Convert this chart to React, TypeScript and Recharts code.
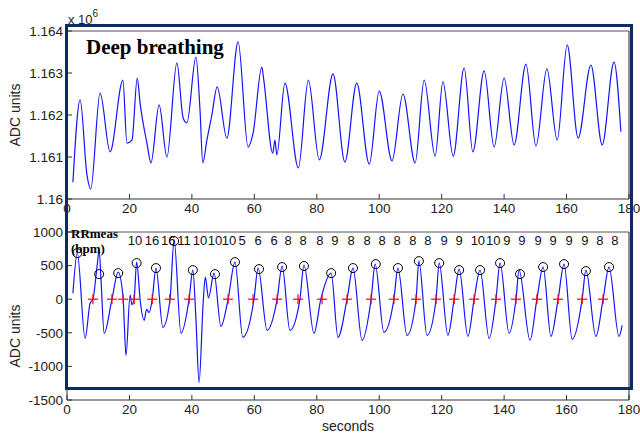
import { ComposedChart, Line, Scatter, XAxis, YAxis } from "recharts";

// top panel: raw signal (x 10^6 ADC units)
const rawT = [1.9, 4.2, 6.4, 7.6, 10.6, 13.8, 17.9, 19.2, 20.8, 22.5, 23.4, 25.6, 26.9, 29.5, 32.0, 35.2, 37.2, 38.4, 41.3, 42.6, 43.5, 44.8, 46.4, 48.1, 51.2, 54.8, 58.0, 59.6, 62.4, 63.0, 65.9, 66.6, 67.2, 69.8, 74.1, 77.3, 80.8, 85.2, 89.0, 92.8, 96.8, 100.0, 104.1, 107.6, 111.5, 114.4, 117.9, 120.4, 123.7, 127.2, 130.0, 133.6, 136.8, 140.0, 143.2, 147.0, 150.2, 153.7, 157.0, 160.2, 163.7, 167.8, 171.4, 175.2, 177.4];
const rawV = [1.1604, 1.16236, 1.16057, 1.16024, 1.16252, 1.16112, 1.16283, 1.16133, 1.1614, 1.16288, 1.16229, 1.16133, 1.16086, 1.16224, 1.161, 1.16324, 1.16193, 1.16181, 1.16338, 1.16212, 1.16086, 1.1614, 1.162, 1.16267, 1.16145, 1.16374, 1.16124, 1.16157, 1.16314, 1.16285, 1.16109, 1.1614, 1.16105, 1.16276, 1.16074, 1.16283, 1.16093, 1.16298, 1.16088, 1.16276, 1.16083, 1.16257, 1.16091, 1.1625, 1.16086, 1.16283, 1.16102, 1.16279, 1.16102, 1.16312, 1.16112, 1.16305, 1.16124, 1.16288, 1.16129, 1.16321, 1.16126, 1.1631, 1.1614, 1.16367, 1.16145, 1.16319, 1.16129, 1.16326, 1.1616];

// bottom panel: filtered signal
const filtT = [1.9, 3.3, 5.8, 7.4, 8.3, 9.6, 10.3, 10.9, 11.9, 14.4, 16.4, 18.0, 18.3, 18.9, 20.2, 20.8, 21.5, 22.3, 23.5, 24.7, 25.5, 26.3, 27.3, 28.5, 30.7, 33.0, 34.3, 36.5, 39.1, 40.3, 41.3, 42.3, 43.6, 44.3, 45.3, 47.1, 49.3, 51.6, 53.8, 56.3, 59.9, 61.2, 64.1, 67.3, 68.9, 71.4, 74.6, 75.9, 79.1, 81.3, 84.6, 86.8, 89.7, 91.6, 94.5, 97.4, 98.7, 101.5, 104.7, 106.0, 108.9, 111.8, 112.7, 115.3, 118.2, 119.2, 122.0, 124.0, 125.6, 128.4, 130.4, 132.3, 135.2, 137.4, 138.7, 141.6, 143.8, 144.8, 148.3, 150.5, 152.5, 155.0, 157.3, 159.2, 161.8, 165.0, 166.2, 169.4, 171.7, 173.6, 176.8, 177.8];
const filtV = [89, 686, -583, -60, 0, 477, 731, 283, -508, 0, 403, 0, -314, -836, 60, -80, 0, 552, -45, -314, -150, -200, 0, 463, -418, 0, 880, -508, 0, 433, -300, -1240, -60, 328, 20, 388, -403, 0, 552, -568, 0, 463, -463, 0, 493, -463, 0, 507, -508, 0, 388, -568, 0, 463, -612, 0, 522, -493, 0, 463, -538, 0, 567, -538, 0, 537, -538, 0, 448, -553, 0, 433, -583, 0, 537, -508, 0, 433, -612, 0, 478, -553, 0, 522, -597, 0, 433, -553, 0, 478, -553, -388];

// detected peaks (circles) and zero crossings (red +)
const peakT = [3.3, 10.3, 16.4, 22.3, 28.5, 34.3, 40.3, 47.4, 53.8, 61.5, 68.9, 75.9, 84.6, 91.6, 98.9, 106.0, 112.7, 119.2, 125.6, 132.3, 138.7, 145.1, 152.5, 159.2, 166.2, 173.6];
const peakV = [686, 373, 388, 537, 463, 865, 433, 373, 552, 448, 478, 493, 388, 463, 522, 463, 567, 537, 433, 433, 537, 373, 478, 522, 418, 478];
const crossT = [8.3, 14.4, 18.0, 21.5, 27.3, 32.9, 39.1, 51.6, 59.6, 67.3, 74.0, 81.7, 89.7, 97.4, 104.7, 111.8, 118.2, 124.0, 130.4, 137.4, 143.8, 150.5, 157.3, 165.0, 171.7];

// RR per breath (bpm)
const rrT = [21.8, 27.2, 32.4, 37.5, 42.6, 47.4, 51.9, 56.1, 61.2, 66.3, 70.8, 75.6, 81.0, 85.8, 91.0, 96.1, 100.9, 105.7, 110.8, 115.6, 120.8, 125.6, 131.6, 136.5, 140.9, 145.7, 150.9, 155.7, 160.8, 165.9, 170.7, 175.5];
const rrVal = [10, 16, 16, 11, 10, 10, 10, 5, 6, 6, 8, 8, 8, 9, 8, 8, 8, 8, 8, 8, 9, 9, 10, 10, 9, 9, 9, 9, 9, 9, 8, 8];

const xTicks = [0, 20, 40, 60, 80, 100, 120, 140, 160, 180];
const topTicks = [1.16, 1.161, 1.162, 1.163, 1.164];
const botTicks = [-1500, -1000, -500, 0, 500, 1000];

const rawData = rawT.map((t, i) => ({ t, v: rawV[i] }));
const filtData = filtT.map((t, i) => ({ t, v: filtV[i] }));
const peakData = peakT.map((t, i) => ({ t, v: peakV[i] }));
const crossData = crossT.map((t) => ({ t, v: 0 }));
const rrData = rrT.map((t, i) => ({ t, v: 880, label: rrVal[i] }));

const FONT = "'Liberation Sans', Arial, sans-serif";
const SERIF = "'Liberation Serif', 'Times New Roman', serif";
const tickStyle = { fill: "#222", fontSize: 13.5, fontFamily: FONT };
const W = 640;
const H = 434;

function fmtTop(v: number) {
  return String(Number(v.toFixed(3)));
}

function Panel({ top, bottom, yTicks, yDomain, yFmt, children }: any) {
  return (
    <ComposedChart
      width={W}
      height={H}
      margin={{ top: top - 1, left: 7, right: 10, bottom: H - bottom - 30 }}
      style={{ position: "absolute", left: 0, top: 0 }}
    >
      <XAxis
        dataKey="t"
        type="number"
        domain={[0, 180]}
        ticks={xTicks}
        interval={0}
        height={30}
        tickSize={-5}
        tickMargin={9}
        tick={tickStyle}
        stroke="#333"
        allowDataOverflow
      />
      <XAxis
        xAxisId="top"
        orientation="top"
        dataKey="t"
        type="number"
        domain={[0, 180]}
        ticks={xTicks}
        interval={0}
        height={1}
        tickSize={-5}
        tick={false}
        stroke="#555"
        allowDataOverflow
      />
      <YAxis
        dataKey="v"
        type="number"
        domain={yDomain}
        ticks={yTicks}
        interval={0}
        width={60}
        tickSize={-5}
        tickMargin={9}
        tick={tickStyle}
        tickFormatter={yFmt}
        stroke="#333"
        allowDataOverflow
      />
      <YAxis
        yAxisId="right"
        orientation="right"
        dataKey="v"
        type="number"
        domain={yDomain}
        ticks={yTicks}
        interval={0}
        width={1}
        tickSize={-5}
        tick={false}
        stroke="#222"
        allowDataOverflow
      />
      {children}
    </ComposedChart>
  );
}

export default function App() {
  return (
    <div style={{ position: "absolute", left: 0, top: 0, width: W, height: H, background: "#fff", overflow: "hidden" }}>
      <Panel top={31} bottom={199} yTicks={topTicks} yDomain={[1.16, 1.164]} yFmt={fmtTop}>
        <Line data={rawData} dataKey="v" type="monotone" stroke="#1414ff" strokeWidth={1.2} dot={false} isAnimationActive={false} />
      </Panel>
      <Panel top={232} bottom={400} yTicks={botTicks} yDomain={[-1500, 1000]}>
        <Line data={filtData} dataKey="v" type="monotone" stroke="#1414ff" strokeWidth={1.2} dot={false} isAnimationActive={false} />
        <Scatter
          data={crossData}
          dataKey="v"
          isAnimationActive={false}
          shape={(p: any) => (
            <g stroke="#ff0000" strokeWidth={1.2}>
              <line x1={p.cx - 5} x2={p.cx + 5} y1={p.cy} y2={p.cy} />
              <line x1={p.cx} x2={p.cx} y1={p.cy - 5} y2={p.cy + 5} />
            </g>
          )}
        />
        <Scatter
          data={peakData}
          dataKey="v"
          isAnimationActive={false}
          shape={(p: any) => <circle cx={p.cx} cy={p.cy} r={4.5} fill="none" stroke="#000" strokeWidth={1} />}
        />
        <Scatter
          data={rrData}
          dataKey="v"
          isAnimationActive={false}
          shape={(p: any) => (
            <text x={p.cx} y={p.cy} textAnchor="middle" dominantBaseline="central" fontSize={13} fontFamily={FONT} fill="#111">
              {p.payload.label}
            </text>
          )}
        />
      </Panel>

      <div style={{ position: "absolute", left: 86, top: 35, fontFamily: SERIF, fontWeight: "bold", fontSize: 21, color: "#000", whiteSpace: "nowrap" }}>
        Deep breathing
      </div>
      <div style={{ position: "absolute", left: 71, top: 226, fontFamily: SERIF, fontWeight: "bold", fontSize: 13, lineHeight: "15px", color: "#000" }}>
        RRmeas<br />(bpm)
      </div>
      <div style={{ position: "absolute", left: 68, top: 12, fontFamily: FONT, fontSize: 13, color: "#222", whiteSpace: "nowrap" }}>
        x 10<span style={{ fontSize: 10, position: "relative", top: -7 }}>6</span>
      </div>
      <div style={{ position: "absolute", left: 15, top: 115, transform: "translate(-50%, -50%) rotate(-90deg)", fontFamily: FONT, fontSize: 14, color: "#222", whiteSpace: "nowrap" }}>
        ADC units
      </div>
      <div style={{ position: "absolute", left: 15, top: 336, transform: "translate(-50%, -50%) rotate(-90deg)", fontFamily: FONT, fontSize: 14, color: "#222", whiteSpace: "nowrap" }}>
        ADC units
      </div>
      <div style={{ position: "absolute", left: 348, top: 426, transform: "translate(-50%, -50%)", fontFamily: FONT, fontSize: 14, lineHeight: "14px", color: "#222", whiteSpace: "nowrap" }}>
        seconds
      </div>
      <div style={{ position: "absolute", left: 65, top: 24, width: 568, height: 366, boxSizing: "border-box", border: "3px solid #0d2a68", pointerEvents: "none" }} />
    </div>
  );
}
